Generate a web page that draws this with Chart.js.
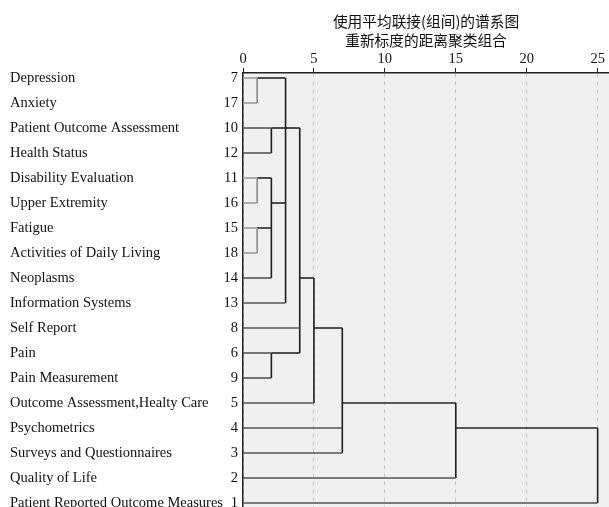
<!DOCTYPE html>
<html>
<head>
<meta charset="utf-8">
<script src="https://cdn.jsdelivr.net/npm/chart.js@4.4.1/dist/chart.umd.min.js"></script>
<style>html,body{margin:0;background:#fff}</style>
</head>
<body>
<canvas id="grafica" width="609" height="507"></canvas>
<script>
// Casos en el orden del dendrograma (de arriba hacia abajo)
const nombres = ['Depression', 'Anxiety', 'Patient Outcome Assessment', 'Health Status',
  'Disability Evaluation', 'Upper Extremity', 'Fatigue', 'Activities of Daily Living',
  'Neoplasms', 'Information Systems', 'Self Report', 'Pain', 'Pain Measurement',
  'Outcome Assessment,Healty Care', 'Psychometrics', 'Surveys and Questionnaires',
  'Quality of Life', 'Patient Reported Outcome Measures'];
const casos = [7, 17, 10, 12, 11, 16, 15, 18, 14, 13, 8, 6, 9, 5, 4, 3, 2, 1];

// Fusiones: hijos (0-17 = filas, 18+ = fusión anterior), distancia reescalada y fila de su línea
const hijos = [[0, 1], [2, 3], [4, 5], [6, 7], [20, 21, 8], [18, 19, 22, 9],
  [11, 12], [23, 10, 24], [25, 13], [26, 14, 15], [27, 16], [28, 17]];
const distancias = [1, 2, 1, 1, 2, 3, 2, 4, 5, 7, 15, 25];
const filas = [0, 2, 4, 6, 5, 2, 11, 8, 10, 13, 14, 14];

const ticksX = [0, 5, 10, 15, 20, 25];
const titulo = ['使用平均联接(组间)的谱系图', '重新标度的距离聚类组合'];

// Armamos los segmentos del dendrograma a partir de las fusiones
const n = nombres.length;
const distNodo = i => i < n ? 0 : distancias[i - n];
const filaNodo = i => i < n ? i : filas[i - n];
const claros = [];
const oscuros = [];
hijos.forEach((grupo, k) => {
  const d = distancias[k];
  const lista = d <= 1 ? claros : oscuros;
  grupo.forEach(h => {
    lista.push({
      data: [{x: distNodo(h), y: filaNodo(h)}, {x: d, y: filaNodo(h)}],
      color: d <= 1 ? '#9a9a9a' : (h < n ? '#555' : '#262626')
    });
  });
  const rs = grupo.map(filaNodo);
  lista.push({
    data: [{x: d, y: Math.min(...rs)}, {x: d, y: Math.max(...rs)}],
    color: d <= 1 ? '#8a8a8a' : '#1e1e1e'
  });
});
const datasets = claros.concat(oscuros).map(s => ({
  data: s.data,
  borderColor: s.color,
  borderWidth: 1.6,
  showLine: true,
  pointRadius: 0,
  fill: false
}));

// Los ejes verticales no deben reservar espacio extra arriba/abajo
const ajusteY = ancho => s => { s.width = ancho; s.paddingTop = 0; s.paddingBottom = 0; };
const filasTicks = s => { s.ticks = nombres.map((_, i) => ({value: i})); };
const fuenteSerif = {family: '"Liberation Serif", "Times New Roman", serif', size: 14.5};

// Fondo gris del área del gráfico
const fondo = {
  id: 'fondo',
  beforeDraw(chart) {
    const a = chart.chartArea;
    chart.ctx.save();
    chart.ctx.fillStyle = '#f0f0f0';
    chart.ctx.fillRect(a.left, a.top, a.right - a.left, a.bottom - a.top);
    chart.ctx.restore();
  }
};

const config = {
  type: 'scatter',
  data: {datasets: datasets},
  plugins: [fondo],
  options: {
    responsive: false,
    animation: false,
    layout: {padding: {left: 10, right: 0, top: 0, bottom: 0}},
    plugins: {legend: {display: false}, tooltip: {enabled: false}},
    scales: {
      x: {
        type: 'linear',
        position: 'top',
        min: 0,
        max: 25.8,
        afterBuildTicks: s => { s.ticks = ticksX.map(v => ({value: v})); },
        afterFit: s => { s.height = 73; s.paddingLeft = 0; s.paddingRight = 0; },
        ticks: {font: fuenteSerif, color: '#111', padding: 0, autoSkip: false, maxRotation: 0},
        grid: {color: '#c8c8c8', lineWidth: 1, tickLength: 5, tickColor: '#222', tickWidth: 1, tickBorderDash: []},
        border: {display: true, color: '#222', width: 1.5, dash: [4, 4]},
        title: {
          display: true,
          text: titulo,
          color: '#111',
          font: {family: '"Noto Sans CJK SC", sans-serif', size: 14.7, lineHeight: '19px'},
          padding: {top: 12, bottom: 0}
        }
      },
      y: {
        type: 'linear',
        position: 'left',
        weight: 0,
        reverse: true,
        min: -0.2,
        max: 17.16,
        afterBuildTicks: filasTicks,
        afterFit: ajusteY(18),
        ticks: {font: fuenteSerif, color: '#111', padding: 5, autoSkip: false, callback: v => casos[v]},
        grid: {display: false, drawTicks: false},
        border: {display: true, color: '#222', width: 1.5}
      },
      nombres: {
        type: 'linear',
        position: 'left',
        weight: 1,
        reverse: true,
        min: -0.2,
        max: 17.16,
        afterBuildTicks: filasTicks,
        afterFit: ajusteY(215),
        ticks: {font: fuenteSerif, color: '#111', padding: 0, autoSkip: false, crossAlign: 'far', callback: v => nombres[v]},
        grid: {display: false, drawTicks: false},
        border: {display: false}
      }
    }
  }
};

const grafica = new Chart(document.getElementById('grafica'), config);
</script>
</body>
</html>
